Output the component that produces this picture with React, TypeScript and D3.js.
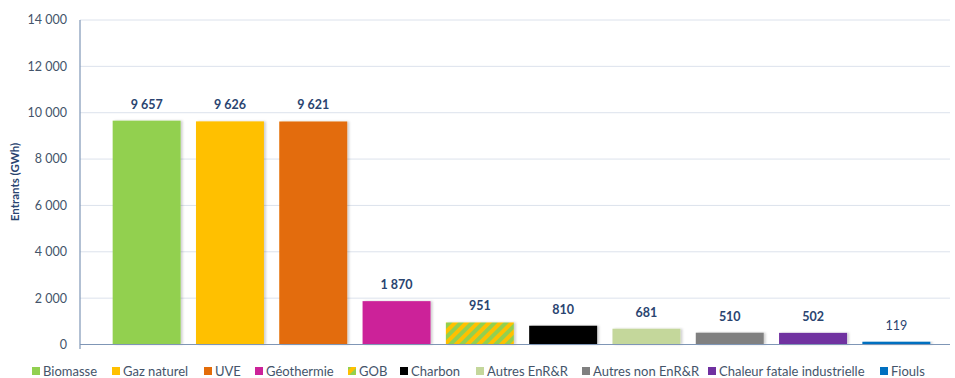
import React from "react";
import * as d3 from "d3";

const categories = ["Biomasse", "Gaz naturel", "UVE", "Géothermie", "GOB", "Charbon", "Autres EnR&R", "Autres non EnR&R", "Chaleur fatale industrielle", "Fiouls"];
const values = [9657, 9626, 9621, 1870, 951, 810, 681, 510, 502, 119];
const colors = ["#92D050", "#FFC000", "#E36C09", "#CC2299", "url(#gob)", "#000000", "#C4D79B", "#808080", "#7030A0", "#0070C0"];
const boldLabel = [true, true, true, true, true, true, true, true, true, false];
const yTicks = [0, 2000, 4000, 6000, 8000, 10000, 12000, 14000];
const legendX = [32, 112, 204, 255, 348, 400, 476, 582, 708, 880];

const W = 955, H = 378;
const FONT = "Lato, 'Open Sans', sans-serif";
const fmt = (v: number) => d3.format(",")(v).replace(/,/g, " ");

export default function App() {
  const y = d3.scaleLinear().domain([0, 14000]).range([344.5, 20]);
  const x = d3.scaleBand<string>().domain(categories).range([105, 938]).paddingInner(0.184).paddingOuter(0.092);
  return (
    <svg width={W} height={H} style={{ position: "absolute", left: 0, top: 0, background: "#fff" }}>
      <defs>
        <pattern id="gob" width="8" height="8" patternUnits="userSpaceOnUse" patternTransform="rotate(45)">
          <rect width="8" height="8" fill="#FFC000" />
          <rect width="4" height="8" fill="#92D050" />
        </pattern>
        <filter id="sh" x="-10%" y="-10%" width="130%" height="130%">
          <feDropShadow dx="2" dy="0" stdDeviation="1.2" floodColor="#000" floodOpacity="0.18" />
        </filter>
      </defs>
      {yTicks.map((t) => (
        <g key={t}>
          {t > 0 && <line x1={80} x2={950} y1={y(t)} y2={y(t)} stroke="#DCE2EC" strokeWidth={1} />}
          <text x={67} y={y(t)} dy="0.35em" textAnchor="end" fontFamily={FONT} fontSize={12.5} fill="#44546A">
            {fmt(t)}
          </text>
        </g>
      ))}
      {categories.map((c, i) => (
        <g key={c}>
          <rect x={x(c)} y={y(values[i])} width={x.bandwidth()} height={y(0) - y(values[i])} fill={colors[i]} filter="url(#sh)" />
          <text x={(x(c) as number) + x.bandwidth() / 2} y={y(values[i]) - 12} textAnchor="middle" fontFamily={FONT} fontSize={12.5} fontWeight={boldLabel[i] ? 700 : 400} fill="#2A4470">
            {fmt(values[i])}
          </text>
        </g>
      ))}
      <line x1={80} x2={80} y1={20} y2={349} stroke="#7F96B6" strokeWidth={1.2} />
      <line x1={80} x2={950} y1={344.5} y2={344.5} stroke="#7F96B6" strokeWidth={1.2} />
      <text transform="translate(19,182) rotate(-90)" textAnchor="middle" fontFamily={FONT} fontSize={11.5} fontWeight={700} fill="#2A4470">
        Entrants (GWh)
      </text>
      {categories.map((c, i) => (
        <g key={"lg" + c}>
          <rect x={legendX[i]} y={367} width={8} height={8} fill={colors[i]} />
          <text x={legendX[i] + 11} y={371} dy="0.35em" fontFamily={FONT} fontSize={13} fill="#44546A">
            {c}
          </text>
        </g>
      ))}
    </svg>
  );
}
